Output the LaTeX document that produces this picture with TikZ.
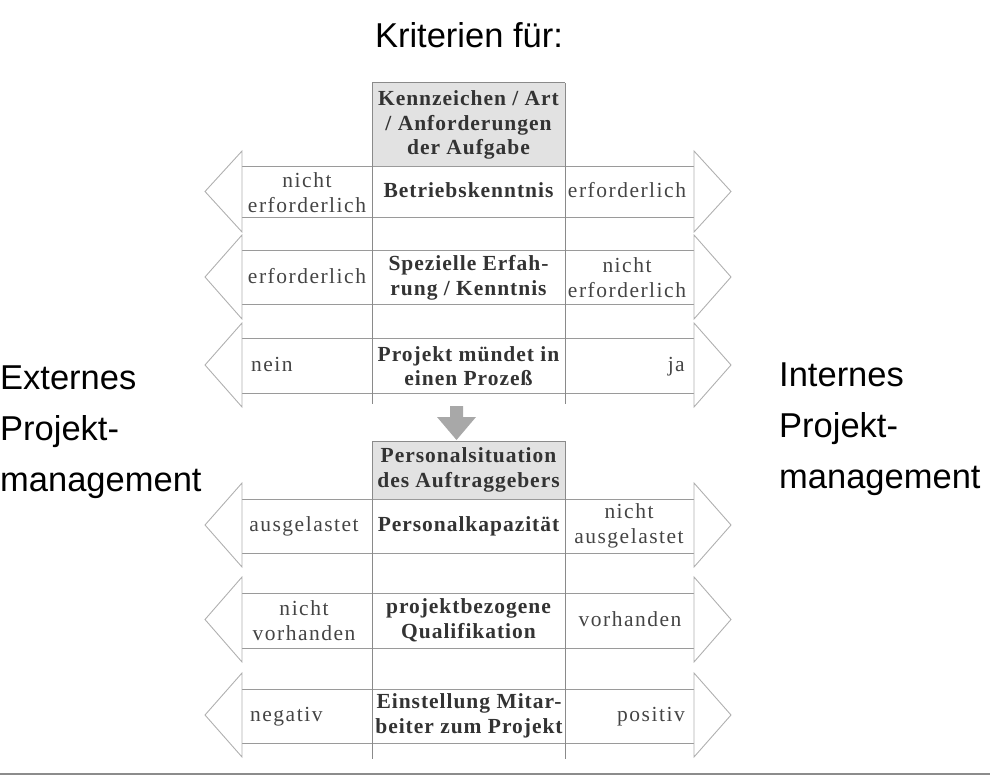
\documentclass[tikz,border=0pt]{standalone}
\usepackage{fontspec}
\setmainfont{Liberation Serif}
\newfontfamily\labelfont{Liberation Sans}
\newfontfamily\cellfont[LetterSpace=7]{Liberation Serif}
\newfontfamily\boldcellfont[LetterSpace=4.5]{Liberation Serif}
\definecolor{txtgray}{HTML}{444444}
\definecolor{boldgray}{HTML}{333333}
\definecolor{shaftgray}{HTML}{9A9A9A}
\definecolor{headgray}{HTML}{B0B0B0}
\definecolor{colgray}{HTML}{8A8A8A}
\definecolor{boxfill}{HTML}{E2E2E2}
\definecolor{downgray}{HTML}{A8A8A8}
\definecolor{rulegray}{HTML}{8C8C8C}
\tikzset{
  shaftline/.style={draw=shaftgray, line width=1pt},
  headline/.style={draw=headgray, line width=0.9pt, line join=miter},
  colline/.style={draw=colgray, line width=1pt},
  cell/.style={font={\cellfont\fontsize{21.5}{25}\selectfont}, text=txtgray, align=center, inner sep=0pt},
  ctr/.style={font={\boldcellfont\bfseries\fontsize{21.5}{24.5}\selectfont}, text=boldgray, align=center, inner sep=0pt},
  side/.style={font={\labelfont\fontsize{34.5}{51}\selectfont}, text=black, anchor=base west, inner sep=0pt},
  oneline/.style={text height=15pt, text depth=4pt},
}
\begin{document}
\begin{tikzpicture}[x=1pt,y=-1pt]
\useasboundingbox (0,0) rectangle (990,775);

% gray header boxes
\fill[boxfill] (372,83) rectangle (565,167);
\fill[boxfill] (372,441) rectangle (565,499);

% double arrows
\foreach \t/\b in {167/218, 251/305, 339/393, 499/553, 593/648, 689/743} {
  \draw[shaftline] (242,\t) -- (694,\t) (242,\b) -- (694,\b);
  \draw[headline] (242,\t-16) -- (205,{(\t+\b)/2-1}) -- (242,\b+14) -- cycle;
  \draw[headline] (694,\t-16) -- (731,{(\t+\b)/2-1}) -- (694,\b+14) -- cycle;
}

% column lines
\draw[colline] (372,83) -- (565,83);
\draw[colline] (372,441) -- (565,441);
\draw[colline] (372,83) -- (372,404) (565,83) -- (565,404);
\draw[colline] (372,441) -- (372,759) (565,441) -- (565,759);

% down arrow
\fill[downgray] (450,406) -- (463,406) -- (463,417) -- (476,417) -- (456.5,440) -- (437,417) -- (450,417) -- cycle;

% bottom rule
\draw[draw=rulegray, line width=2pt] (0,774) -- (990,774);

% titles
\node[font={\labelfont\fontsize{34.5}{40}\selectfont}, anchor=base, inner sep=0pt] (title) at (469,48) {Kriterien für:};
\node[side] (ext1) at (0,389) {Externes};
\node[side] (ext2) at (0,440) {Projekt-};
\node[side] (ext3) at (0,491) {management};
\node[side] (int1) at (779,386) {Internes};
\node[side] (int2) at (779,437) {Projekt-};
\node[side] (int3) at (779,488) {management};

% header texts
\node[ctr] (h1) at (468.5,125) {Kennzeichen / Art\\/ Anforderungen\\der Aufgabe};
\node[ctr] (h2) at (468.5,470) {Personalsituation\\des Auftraggebers};

% row 1
\node[cell] (l1) at (307,192.5) {nicht\\erforderlich};
\node[ctr, oneline] (c1) at (468.5,192.5) {Betriebskenntnis};
\node[cell, oneline] (r1) at (627,192.5) {erforderlich};
% row 2
\node[cell, oneline] (l2) at (307,278) {erforderlich};
\node[ctr] (c2) at (468.5,278) {Spezielle Erfah-\\rung / Kenntnis};
\node[cell] (r2) at (627,278) {nicht\\erforderlich};
% row 3
\node[cell, oneline, anchor=west] (l3) at (251,366) {nein};
\node[ctr] (c3) at (468.5,366) {Projekt mündet in\\einen Prozeß};
\node[cell, oneline, anchor=east] (r3) at (685,366) {ja};
% row 4
\node[cell, oneline] (l4) at (304,526) {ausgelastet};
\node[ctr, oneline] (c4) at (468.5,526) {Personalkapazität};
\node[cell] (r4) at (629,526) {nicht\\ausgelastet};
% row 5
\node[cell] (l5) at (304,620.5) {nicht\\vorhanden};
\node[ctr] (c5) at (468.5,620.5) {projektbezogene\\Qualifikation};
\node[cell, oneline] (r5) at (630,620.5) {vorhanden};
% row 6
\node[cell, oneline, anchor=west] (l6) at (250,716) {negativ};
\node[ctr] (c6) at (469,716) {Einstellung Mitar-\\beiter zum Projekt};
\node[cell, oneline, anchor=east] (r6) at (685,716) {positiv};
\end{tikzpicture}
\end{document}
